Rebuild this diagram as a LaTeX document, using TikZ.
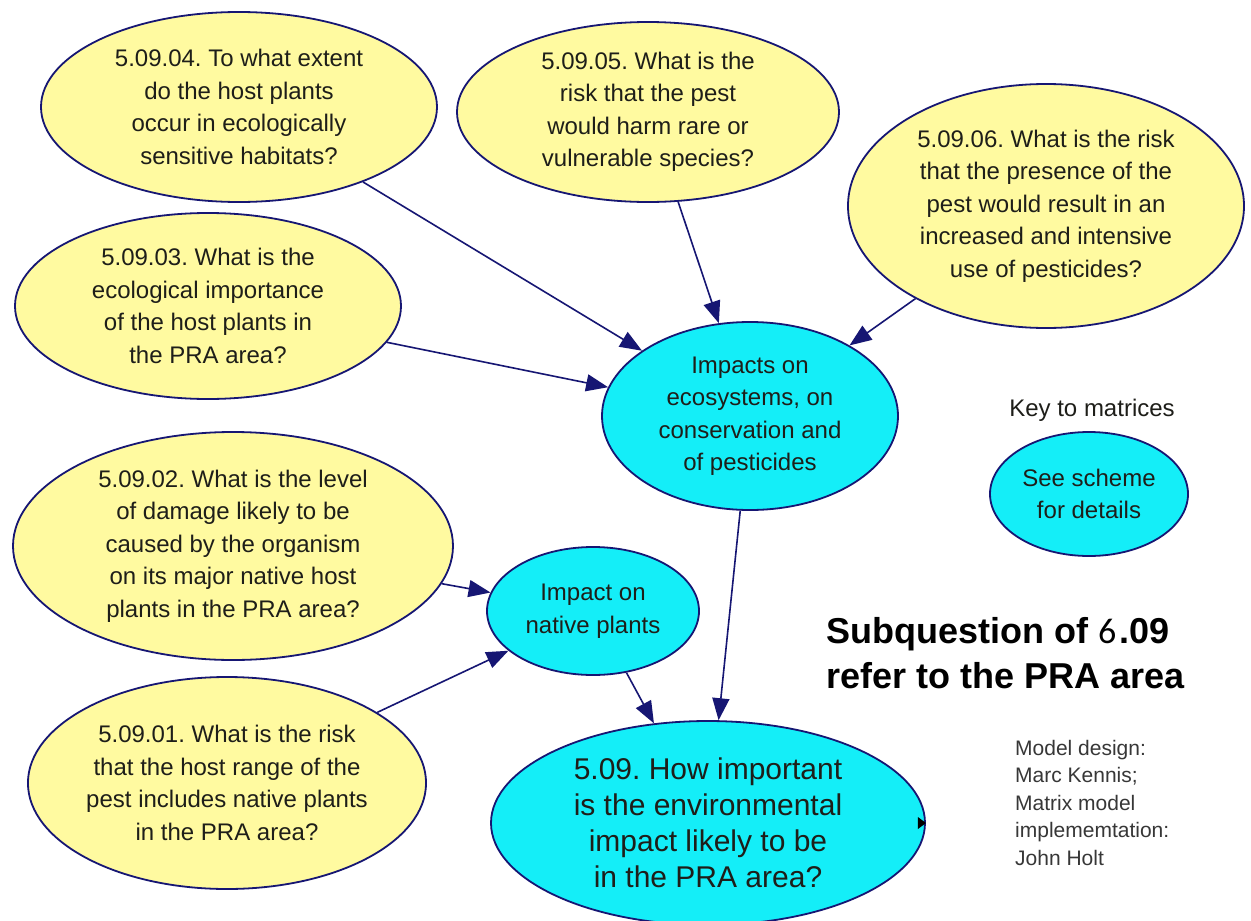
\documentclass[tikz,border=0pt]{standalone}
\usepackage{fontspec}
\setmainfont{Liberation Sans}
\newfontfamily\calfont{Carlito}
\usetikzlibrary{shapes.geometric,arrows.meta}
\definecolor{qyellow}{RGB}{255,250,160}
\definecolor{qcyan}{RGB}{20,238,248}
\definecolor{qnavy}{RGB}{22,22,115}
\definecolor{qtext}{RGB}{30,30,25}
\definecolor{qgray}{RGB}{55,55,55}
\frenchspacing
\begin{document}
\begin{tikzpicture}[x=1pt,y=-1pt,
  qnode/.style={ellipse, draw=qnavy, line width=1.8pt, fill=qyellow, inner sep=0pt,
    align=center, text=qtext, font=\fontsize{24}{32.5}\selectfont},
  cnode/.style={qnode, fill=qcyan},
  conn/.style={draw=qnavy, line width=1.6pt, -{Triangle[length=22pt,width=17pt]}},
  plain/.style={text=qtext, inner sep=0pt}]
\fill[white] (0,0) rectangle (1251,921);
\useasboundingbox (0,0) rectangle (1251,921);

\node[qnode, minimum width=396pt, minimum height=190pt] (e04) at (239,107)
  {5.09.04. To what extent\\do the host plants\\occur in ecologically\\sensitive habitats?};
\node[qnode, minimum width=382pt, minimum height=180pt] (e05) at (648,112)
  {5.09.05. What is the\\risk that the pest\\would harm rare or\\vulnerable species?};
\node[qnode, minimum width=396pt, minimum height=244pt] (e06) at (1046,206)
  {5.09.06. What is the risk\\that the presence of the\\pest would result in an\\increased and intensive\\use of pesticides?};
\node[qnode, minimum width=386pt, minimum height=186pt] (e03) at (208,306)
  {5.09.03. What is the\\ecological importance\\of the host plants in\\the PRA area?};
\node[qnode, minimum width=440pt, minimum height=228pt] (e02) at (233,546)
  {5.09.02. What is the level\\of damage likely to be\\caused by the organism\\on its major native host\\plants in the PRA area?};
\node[qnode, minimum width=396pt, minimum height=212pt] (e01) at (227,783)
  {5.09.01. What is the risk\\that the host range of the\\pest includes native plants\\in the PRA area?};

\node[cnode, minimum width=296pt, minimum height=188pt] (i1) at (750,416)
  {Impacts on\\ecosystems, on\\conservation and\\of pesticides};
\node[cnode, minimum width=198pt, minimum height=124pt] (key) at (1089,494)
  {See scheme\\for details};
\node[cnode, minimum width=212pt, minimum height=128pt] (native) at (593,611)
  {Impact on\\native plants};
\node[cnode, minimum width=434pt, minimum height=204pt, font=\fontsize{30}{36}\selectfont] (main) at (708,823)
  {5.09. How important\\is the environmental\\impact likely to be\\in the PRA area?};

\draw[conn] (e04) -- (i1);
\draw[conn] (e05) -- (i1);
\draw[conn] (e06) -- (i1);
\draw[conn] (e03) -- (i1);
\draw[conn] (i1) -- (main);
\draw[conn] (e02) -- (native);
\draw[conn] (e01) -- (native);
\draw[conn] (native) -- (main);

\fill[black] (main.east) ++(-8,-6) -- ++(8,6) -- ++(-8,6) -- cycle;

\node[plain, font=\fontsize{24}{28}\selectfont] (keylbl) at (1092,410) {Key to matrices};
\node[plain, anchor=west, align=left, text=black, font=\bfseries\fontsize{36}{45}\selectfont] (title) at (826,653)
  {Subquestion of {\calfont\mdseries 6}\hspace{3pt}.09\\refer to the PRA area};
\node[plain, anchor=north west, align=left, text=qgray, font=\fontsize{21}{27.5}\selectfont] (credits) at (1015,740)
  {Model design:\\Marc Kennis;\\Matrix model\\implememtation:\\John Holt};
\end{tikzpicture}
\end{document}
